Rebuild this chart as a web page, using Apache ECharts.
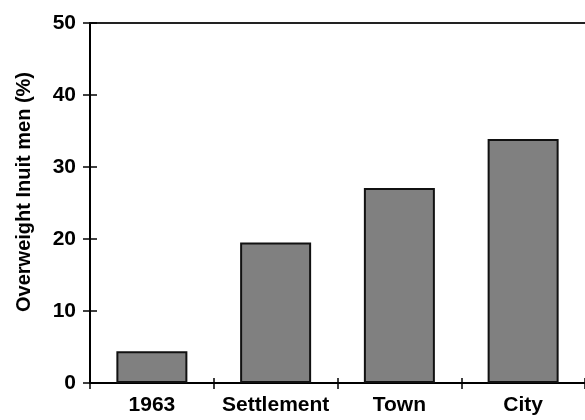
<!DOCTYPE html>
<html>
<head>
<meta charset="utf-8">
<script src="https://cdn.jsdelivr.net/npm/echarts@6/dist/echarts.min.js"></script>
<style>
html,body{margin:0;padding:0;background:#fff;}
#chart{width:585px;height:420px;}
</style>
</head>
<body>
<div id="chart"></div>
<script>
const categories = ['1963', 'Settlement', 'Town', 'City'];
const overweightMen = [4.4, 19.5, 27.1, 33.9];
const yTicks = [0, 10, 20, 30, 40, 50];
const yAxisTitle = 'Overweight Inuit men (%)';

const FONT = '"Liberation Sans", Arial, Helvetica, sans-serif';
const chart = echarts.init(document.getElementById('chart'));
const yMin = yTicks[0], yMax = yTicks[yTicks.length - 1], yStep = yTicks[1] - yTicks[0];

chart.setOption({
  animation: false,
  backgroundColor: '#fff',
  grid: { left: 90, top: 23, width: 498, height: 360, containLabel: false },
  xAxis: [
    {
      type: 'category', position: 'bottom', data: categories,
      axisLine: { show: true, onZero: false, lineStyle: { color: '#000', width: 2 } },
      axisTick: { show: false },
      axisLabel: { color: '#000', fontFamily: FONT, fontWeight: 'bold', fontSize: 21, margin: 12, interval: 0 },
      splitLine: { show: false }
    },
    {
      type: 'category', position: 'top', data: categories,
      axisLine: { show: true, onZero: false, lineStyle: { color: '#222', width: 2 } },
      axisTick: { show: false },
      axisLabel: { show: false },
      splitLine: { show: false }
    },
    {
      type: 'category', position: 'bottom', offset: -5, data: categories,
      axisLine: { show: true, onZero: false, lineStyle: { color: 'rgba(0,0,0,0)', width: 1 } },
      axisTick: { show: true, inside: false, length: 11, lineStyle: { color: '#000', width: 1.5 } },
      axisLabel: { show: false },
      splitLine: { show: false }
    }
  ],
  yAxis: [
    {
      type: 'value', position: 'left', min: yMin, max: yMax, interval: yStep,
      name: yAxisTitle, nameLocation: 'middle', nameGap: 56, nameRotate: 90,
      nameTextStyle: { color: '#000', fontFamily: FONT, fontWeight: 'bold', fontSize: 20, padding: [0, 0, 0, 22] },
      axisLine: { show: true, lineStyle: { color: '#000', width: 2 } },
      axisTick: { show: false },
      axisLabel: { color: '#000', fontFamily: FONT, fontWeight: 'bold', fontSize: 21, margin: 14 },
      splitLine: { show: false }
    },
    {
      type: 'value', position: 'left', offset: -7, min: yMin, max: yMax, interval: yStep,
      axisLine: { show: true, lineStyle: { color: 'rgba(0,0,0,0)', width: 1 } },
      axisTick: { show: true, inside: false, length: 14, lineStyle: { color: '#000', width: 1.5 } },
      axisLabel: { show: false },
      splitLine: { show: false }
    }
  ],
  series: [
    {
      type: 'bar', xAxisIndex: 0, yAxisIndex: 0, data: overweightMen,
      barWidth: 71,
      itemStyle: { color: '#808080', borderColor: '#111', borderWidth: 2 }
    }
  ]
});
</script>
</body>
</html>
